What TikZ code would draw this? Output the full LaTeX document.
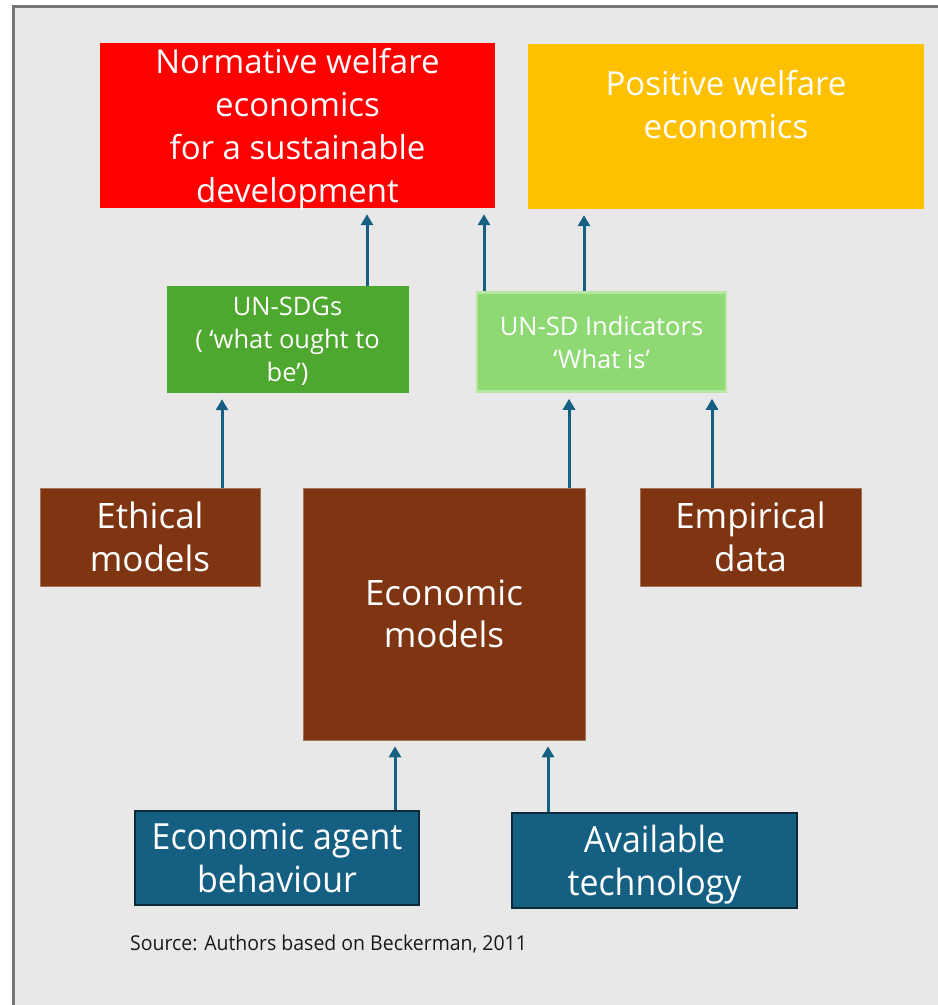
\documentclass[tikz,border=0pt]{standalone}
\usepackage{fontspec}
\setmainfont{Open Sans}
\newfontfamily\narrowfont[FakeStretch=0.94]{Open Sans}
\newfontfamily\notefont[FakeStretch=0.95]{Open Sans}
\usetikzlibrary{arrows.meta}
\definecolor{pagebg}{HTML}{E8E8E8}
\definecolor{framegray}{HTML}{767676}
\definecolor{redbox}{HTML}{FF0000}
\definecolor{goldbox}{HTML}{FFC000}
\definecolor{greenbox}{HTML}{4EA72E}
\definecolor{lightgreen}{HTML}{8ED973}
\definecolor{lightgreenedge}{HTML}{B5E6A2}
\definecolor{brownbox}{HTML}{7F3511}
\definecolor{bluebox}{HTML}{156082}
\definecolor{blueedge}{HTML}{0B2A3A}
\definecolor{arrowblue}{HTML}{156082}
\tikzset{
  box/.style={rectangle, inner sep=0pt, text=white, align=center},
  bigtext/.style={font=\fontsize{33}{43}\selectfont},
  midtext/.style={font=\fontsize{25.5}{33}\selectfont},
  modeltext/.style={font=\fontsize{35}{42.5}\selectfont},
  narrowtext/.style={font=\narrowfont\fontsize{36}{42.5}\selectfont},
  topbox/.style={box, bigtext},
  brown/.style={box, modeltext, fill=brownbox, draw=brownbox!70!white, line width=0.6pt},
  inputbox/.style={box, narrowtext, fill=bluebox, draw=blueedge, line width=2.5pt},
  link/.style={draw=arrowblue, line width=3pt, -{Triangle[width=12pt,length=11pt]}, shorten >=6pt},
}
\begin{document}
\begin{tikzpicture}[x=1pt, y=-1pt]
  % page and frame
  \fill[white] (0,0) rectangle (938,1005);
  \useasboundingbox (0,0) rectangle (938,1005);
  \fill[pagebg] (13.5,6.5) rectangle (938,1005);
  \draw[framegray, line width=3pt] (13.5,1005) -- (13.5,6.5) -- (938,6.5);

  % welfare economics
  \node[topbox, fill=redbox, minimum width=395pt, minimum height=165pt, text depth=0pt] (norm) at (297.5,125.5)
    {Normative welfare\\economics\\for a sustainable\\development};
  \node[topbox, fill=goldbox, minimum width=396pt, minimum height=165pt, text depth=44pt] (pos) at (726,126.5)
    {Positive welfare\\economics};

  % goals and indicators
  \node[box, midtext, fill=greenbox, minimum width=242pt, minimum height=107pt, text depth=0pt] (sdg) at (287.5,339.5)
    {UN-SDGs\\( ‘what ought to\\be’)};
  \node[box, midtext, fill=lightgreen, draw=lightgreenedge, line width=2.5pt, minimum width=249pt, minimum height=99pt] (ind) at (601.5,342)
    {UN-SD Indicators\\‘What is’};

  % models and data
  \node[brown, minimum width=220pt, minimum height=98pt] (eth) at (150,537) {Ethical\\models};
  \node[brown, minimum width=282pt, minimum height=252pt] (econ) at (444,614) {Economic\\models};
  \node[brown, minimum width=221pt, minimum height=98pt] (emp) at (750.5,537) {Empirical\\data};

  % inputs
  \node[inputbox, minimum width=284pt, minimum height=94pt] (agent) at (277,858) {Economic agent\\behaviour};
  \node[inputbox, minimum width=285pt, minimum height=95pt, text depth=0pt] (tech) at (654.5,860.5) {Available\\technology};

  \node[anchor=west, inner sep=0pt, font=\notefont\fontsize{20.5}{22}\selectfont, text=black!90] (src) at (130,944)
    {Source: Authors based on Beckerman, 2011};

  % connectors
  \draw[link] (367,0 |- sdg.north) -- (367,0 |- norm.south);
  \draw[link] (484,0 |- ind.north) -- (484,0 |- norm.south);
  \draw[link] (584,0 |- ind.north) -- (584,0 |- pos.south);
  \draw[link] (222,0 |- eth.north) -- (222,0 |- sdg.south);
  \draw[link] (569,0 |- econ.north) -- (569,0 |- ind.south);
  \draw[link] (712,0 |- emp.north) -- (712,0 |- ind.south);
  \draw[link] (395,0 |- agent.north) -- (395,0 |- econ.south);
  \draw[link] (548,0 |- tech.north) -- (548,0 |- econ.south);
\end{tikzpicture}
\end{document}
